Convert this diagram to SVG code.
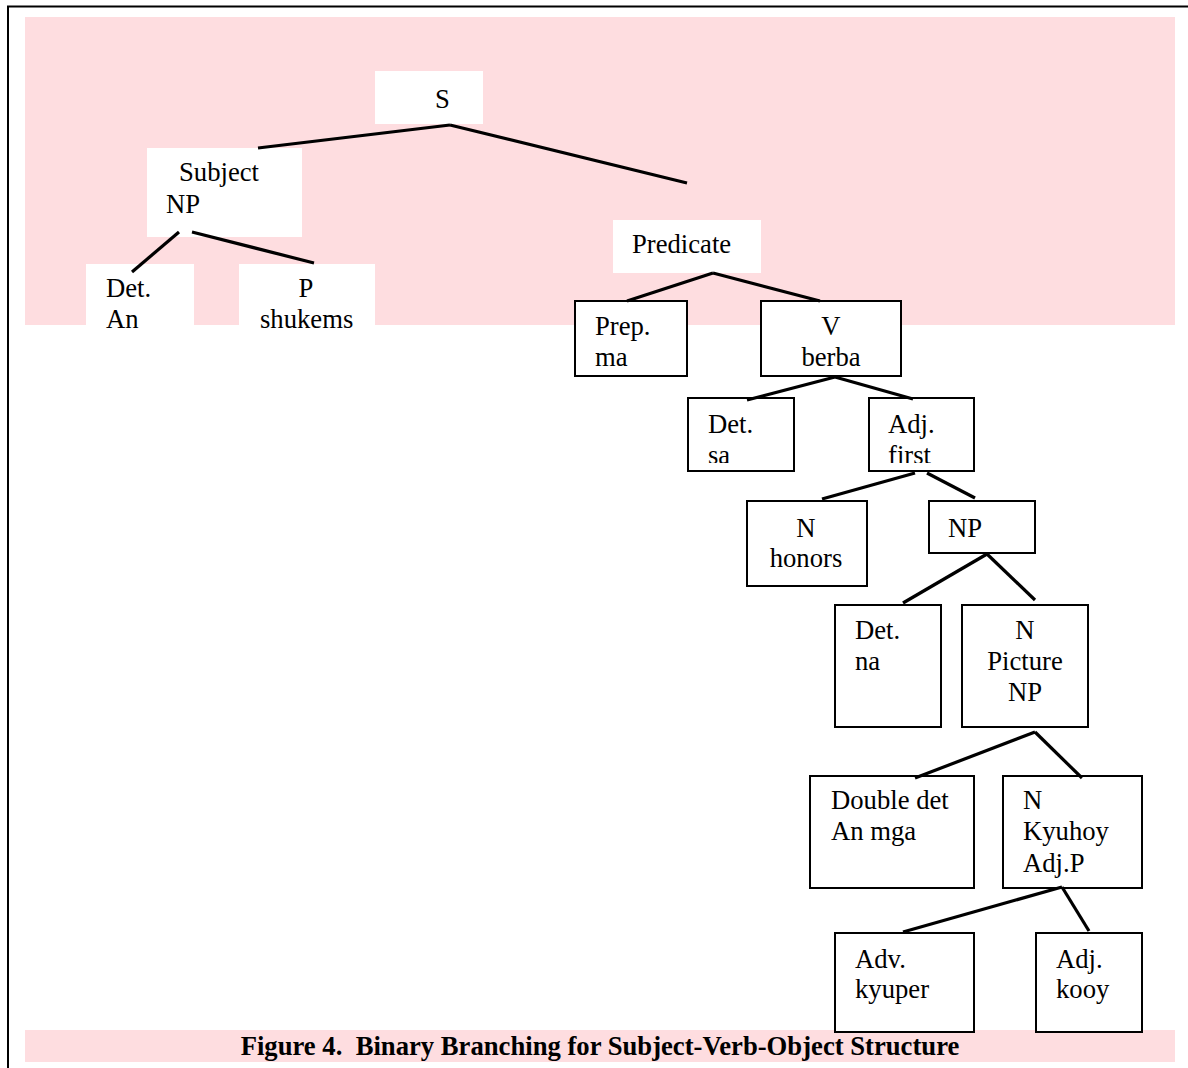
<svg xmlns="http://www.w3.org/2000/svg" width="1188" height="1068" viewBox="0 0 1188 1068">
  <defs>
    <style>
      .band { fill: #FEDDE0; }
      .plain { fill: #FFFFFF; }
      .box { fill: #FFFFFF; stroke: #000000; stroke-width: 2; }
      .lbl { font-family: "Liberation Serif", "Times New Roman", serif; font-size: 26.67px; fill: #000000; }
      .mid { text-anchor: middle; }
      .cap { font-family: "Liberation Serif", "Times New Roman", serif; font-size: 26.67px; font-weight: bold; fill: #000000; text-anchor: middle; }
      .edge { stroke: #000000; stroke-width: 3.2; fill: none; }
    </style>
    <clipPath id="clip-sa"><rect x="688" y="398" width="106" height="65"/></clipPath>
    <clipPath id="clip-first"><rect x="869" y="398" width="105" height="65"/></clipPath>
  </defs>

  <rect x="0" y="0" width="1188" height="1068" fill="#FFFFFF"/>
  <!-- frame -->
  <rect x="8" y="6.5" width="1200" height="1100" fill="none" stroke="#000000" stroke-width="2"/>

  <!-- shaded panels -->
  <rect class="band" x="25" y="17" width="1150" height="308"/>
  <rect class="band" x="25" y="1030" width="1150" height="32"/>

  <!-- nodes -->
  <g id="node-s">
    <rect class="plain" x="375" y="71" width="108" height="53"/>
    <text class="lbl mid" x="442.5" y="108">S</text>
  </g>
  <g id="node-subject-np">
    <rect class="plain" x="147" y="148" width="155" height="89"/>
    <text class="lbl" x="179" y="181">Subject</text>
    <text class="lbl" x="166" y="213">NP</text>
  </g>
  <g id="node-det-an">
    <rect class="plain" x="86" y="264" width="108" height="61"/>
    <text class="lbl" x="106" y="297">Det.</text>
    <text class="lbl" x="106" y="328">An</text>
  </g>
  <g id="node-p-shukems">
    <rect class="plain" x="239" y="264" width="136" height="61"/>
    <text class="lbl mid" x="306" y="297">P</text>
    <text class="lbl" x="260" y="328">shukems</text>
  </g>
  <g id="node-predicate">
    <rect class="plain" x="613" y="220" width="148" height="53"/>
    <text class="lbl" x="632" y="253">Predicate</text>
  </g>
  <g id="node-prep-ma">
    <rect class="box" x="575" y="301" width="112" height="75"/>
    <text class="lbl" x="595" y="335">Prep.</text>
    <text class="lbl" x="595" y="366">ma</text>
  </g>
  <g id="node-v-berba">
    <rect class="box" x="761" y="301" width="140" height="75"/>
    <text class="lbl mid" x="831" y="335">V</text>
    <text class="lbl mid" x="831" y="366">berba</text>
  </g>
  <g id="node-det-sa">
    <rect class="box" x="688" y="398" width="106" height="73"/>
    <text class="lbl" x="708" y="433">Det.</text>
    <text class="lbl" x="708" y="464" clip-path="url(#clip-sa)">sa</text>
  </g>
  <g id="node-adj-first">
    <rect class="box" x="869" y="398" width="105" height="73"/>
    <text class="lbl" x="888" y="433">Adj.</text>
    <text class="lbl" x="888" y="464" clip-path="url(#clip-first)">first</text>
  </g>
  <g id="node-n-honors">
    <rect class="box" x="747" y="501" width="120" height="85"/>
    <text class="lbl mid" x="806" y="537">N</text>
    <text class="lbl mid" x="806" y="567">honors</text>
  </g>
  <g id="node-np">
    <rect class="box" x="929" y="501" width="106" height="52"/>
    <text class="lbl" x="948" y="537">NP</text>
  </g>
  <g id="node-det-na">
    <rect class="box" x="835" y="605" width="106" height="122"/>
    <text class="lbl" x="855" y="639">Det.</text>
    <text class="lbl" x="855" y="670">na</text>
  </g>
  <g id="node-n-picture">
    <rect class="box" x="962" y="605" width="126" height="122"/>
    <text class="lbl mid" x="1025" y="639">N</text>
    <text class="lbl mid" x="1025" y="670">Picture</text>
    <text class="lbl mid" x="1025" y="701">NP</text>
  </g>
  <g id="node-double-det">
    <rect class="box" x="810" y="776" width="164" height="112"/>
    <text class="lbl" x="831" y="809">Double det</text>
    <text class="lbl" x="831" y="840">An mga</text>
  </g>
  <g id="node-n-kyuhoy">
    <rect class="box" x="1003" y="776" width="139" height="112"/>
    <text class="lbl" x="1023" y="809">N</text>
    <text class="lbl" x="1023" y="840">Kyuhoy</text>
    <text class="lbl" x="1023" y="872">Adj.P</text>
  </g>
  <g id="node-adv-kyuper">
    <rect class="box" x="835" y="933" width="139" height="99"/>
    <text class="lbl" x="855" y="968">Adv.</text>
    <text class="lbl" x="855" y="998">kyuper</text>
  </g>
  <g id="node-adj-kooy">
    <rect class="box" x="1036" y="933" width="106" height="99"/>
    <text class="lbl" x="1056" y="968">Adj.</text>
    <text class="lbl" x="1056" y="998">kooy</text>
  </g>

  <!-- connectors, drawn over the node fills -->
  <g id="connectors">
    <line class="edge" x1="450" y1="125" x2="258" y2="148"/>
    <line class="edge" x1="450" y1="125" x2="687" y2="183"/>
    <line class="edge" x1="179" y1="232" x2="132" y2="272"/>
    <line class="edge" x1="192" y1="232" x2="314" y2="263"/>
    <line class="edge" x1="713" y1="273" x2="627" y2="301"/>
    <line class="edge" x1="713" y1="273" x2="820" y2="301"/>
    <line class="edge" x1="835" y1="377" x2="747" y2="400"/>
    <line class="edge" x1="835" y1="377" x2="913" y2="399"/>
    <line class="edge" x1="915" y1="473" x2="822" y2="499"/>
    <line class="edge" x1="927" y1="473" x2="975" y2="498"/>
    <line class="edge" x1="987" y1="554" x2="903" y2="603"/>
    <line class="edge" x1="987" y1="554" x2="1035" y2="600"/>
    <line class="edge" x1="1035" y1="732" x2="915" y2="778"/>
    <line class="edge" x1="1035" y1="732" x2="1082" y2="778"/>
    <line class="edge" x1="1062" y1="887" x2="903" y2="932"/>
    <line class="edge" x1="1062" y1="887" x2="1089" y2="931"/>
  </g>

  <!-- caption -->
  <text class="cap" x="600" y="1055" xml:space="preserve">Figure 4.  Binary Branching for Subject-Verb-Object Structure</text>
</svg>
